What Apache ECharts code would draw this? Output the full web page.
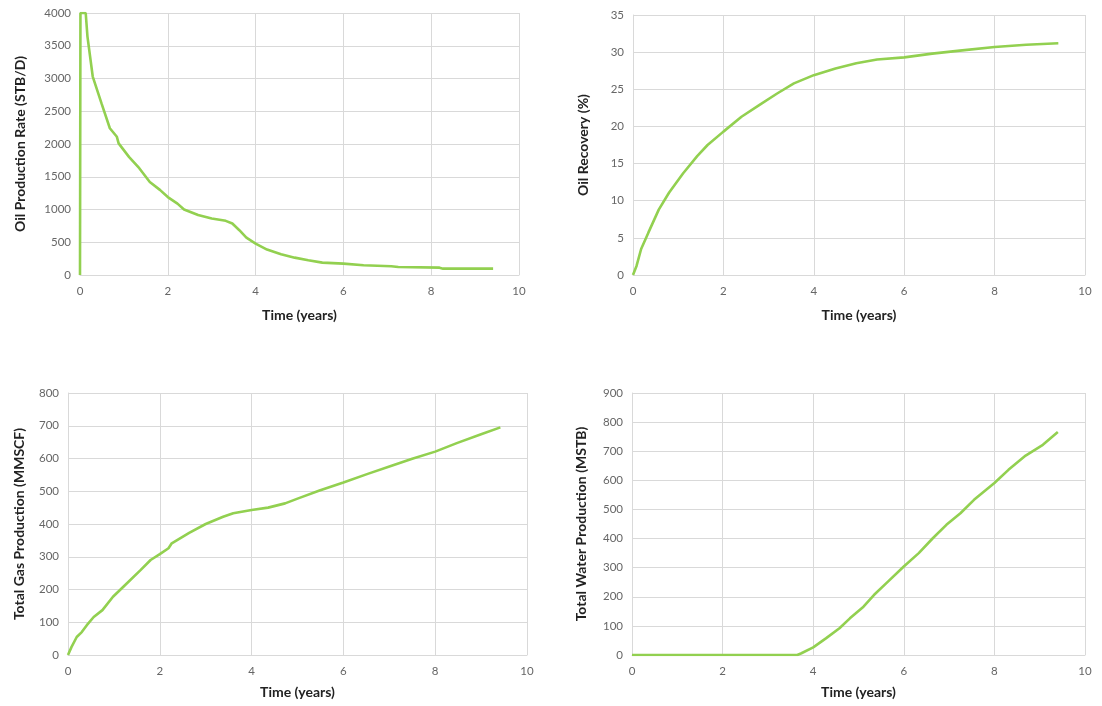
<!DOCTYPE html>
<html>
<head>
<meta charset="utf-8">
<script src="https://cdn.jsdelivr.net/npm/echarts@6/dist/echarts.min.js"></script>
<style>
  html, body { margin: 0; padding: 0; background: #ffffff; }
  #chart { width: 1102px; height: 706px; }
</style>
</head>
<body>
<div id="chart"></div>
<script>
// Oil production rate (STB/D) vs time (years)
const oilRateT = [0, 0.01, 0.13, 0.17, 0.29, 0.49, 0.68, 0.84, 0.88, 1.12, 1.35, 1.59, 1.82, 2.0, 2.22, 2.37, 2.69, 3.0, 3.32, 3.47, 3.63, 3.79, 4.0, 4.26, 4.58, 4.89, 5.2, 5.52, 6.0, 6.46, 7.09, 7.25, 8.19, 8.27, 9.41];
const oilRate  = [0, 4000, 4000, 3640, 3030, 2620, 2240, 2110, 2010, 1800, 1630, 1420, 1300, 1190, 1090, 1000, 915, 862, 827, 786, 684, 571, 480, 388, 316, 265, 224, 189, 173, 148, 133, 122, 112, 97, 97];

// Oil recovery (%) vs time (years)
const recT = [0, 0.08, 0.18, 0.34, 0.57, 0.8, 1.11, 1.42, 1.65, 2.0, 2.4, 2.8, 3.18, 3.56, 4.0, 4.48, 4.94, 5.4, 6.0, 6.62, 7.23, 8.0, 8.7, 9.41];
const recovery = [0, 1.25, 3.5, 5.7, 8.8, 11.1, 13.7, 16.0, 17.5, 19.3, 21.3, 22.9, 24.4, 25.8, 26.9, 27.8, 28.5, 29.0, 29.3, 29.8, 30.2, 30.7, 31.0, 31.2];

// Cumulative gas production (MMSCF) vs time (years)
const gasT = [0, 0.075, 0.19, 0.3, 0.41, 0.56, 0.75, 0.98, 1.24, 1.58, 1.8, 2.0, 2.19, 2.26, 2.64, 3.0, 3.38, 3.6, 4.0, 4.36, 4.73, 5.03, 5.48, 6.0, 6.53, 7.05, 7.5, 8.0, 8.47, 9.0, 9.42];
const gas  = [0, 24, 55, 70, 91, 116, 137, 178, 213, 259, 290, 308, 326, 341, 373, 400, 422, 433, 443, 450, 463, 479, 502, 527, 553, 578, 599, 621, 647, 674, 695];

// Cumulative water production (MSTB) vs time (years)
const waterT = [0, 1, 2, 3, 3.65, 3.74, 4.0, 4.28, 4.58, 4.81, 5.11, 5.34, 5.65, 6.0, 6.33, 6.64, 6.94, 7.25, 7.55, 8.0, 8.31, 8.69, 9.07, 9.4];
const water  = [0, 0, 0, 0, 0, 6, 26, 57, 92, 126, 166, 206, 252, 304, 350, 401, 447, 487, 533, 591, 636, 685, 722, 766];

const pairs = (xs, ys) => xs.map((x, i) => [x, ys[i]]);

const LINE = '#92D050';
const GRID_C = '#D9D9D9';
const TICK_C = '#666666';
const TITLE_C = '#222222';
const FONT = 'Lato, "Open Sans", sans-serif';
const plain = v => String(v);

function xAxis(idx, gap) {
  return {
    type: 'value', gridIndex: idx, min: 0, max: 10, interval: 2,
    name: 'Time (years)', nameLocation: 'middle', nameGap: gap,
    nameTextStyle: { fontFamily: FONT, fontWeight: 'bold', fontSize: 14, color: TITLE_C },
    axisLine: { show: true, lineStyle: { color: GRID_C } },
    axisTick: { show: false },
    axisLabel: { fontFamily: FONT, fontSize: 11.5, color: TICK_C, margin: 10, formatter: plain },
    splitLine: { show: true, lineStyle: { color: GRID_C, width: 1 } }
  };
}
function yAxis(idx, name, max, interval, gap) {
  return {
    type: 'value', gridIndex: idx, min: 0, max: max, interval: interval,
    name: name, nameLocation: 'middle', nameGap: gap,
    nameTextStyle: { fontFamily: FONT, fontWeight: 'bold', fontSize: 14, color: TITLE_C },
    axisLine: { show: true, lineStyle: { color: GRID_C } },
    axisTick: { show: false },
    axisLabel: { fontFamily: FONT, fontSize: 11.5, color: TICK_C, margin: 9, formatter: plain },
    splitLine: { show: true, lineStyle: { color: GRID_C, width: 1 } }
  };
}
function series(idx, data) {
  return {
    type: 'line', xAxisIndex: idx, yAxisIndex: idx, data: data,
    showSymbol: false, symbol: 'none', smooth: false,
    lineStyle: { color: LINE, width: 2.6 }, animation: false
  };
}

const chart = echarts.init(document.getElementById('chart'), null, { renderer: 'canvas' });
chart.setOption({
  backgroundColor: '#ffffff',
  animation: false,
  grid: [
    { left: 80, top: 13, width: 439, height: 262 },
    { left: 633, top: 15, width: 452, height: 260 },
    { left: 68, top: 393, width: 459, height: 262 },
    { left: 632, top: 393, width: 453, height: 262 }
  ],
  xAxis: [xAxis(0, 33), xAxis(1, 33), xAxis(2, 30), xAxis(3, 30)],
  yAxis: [
    yAxis(0, 'Oil Production Rate (STB/D)', 4000, 500, 53),
    yAxis(1, 'Oil Recovery (%)', 35, 5, 43),
    yAxis(2, 'Total Gas Production (MMSCF)', 800, 100, 42),
    yAxis(3, 'Total Water Production (MSTB)', 900, 100, 44)
  ],
  series: [
    series(0, pairs(oilRateT, oilRate)),
    series(1, pairs(recT, recovery)),
    series(2, pairs(gasT, gas)),
    series(3, pairs(waterT, water))
  ]
});
</script>
</body>
</html>
